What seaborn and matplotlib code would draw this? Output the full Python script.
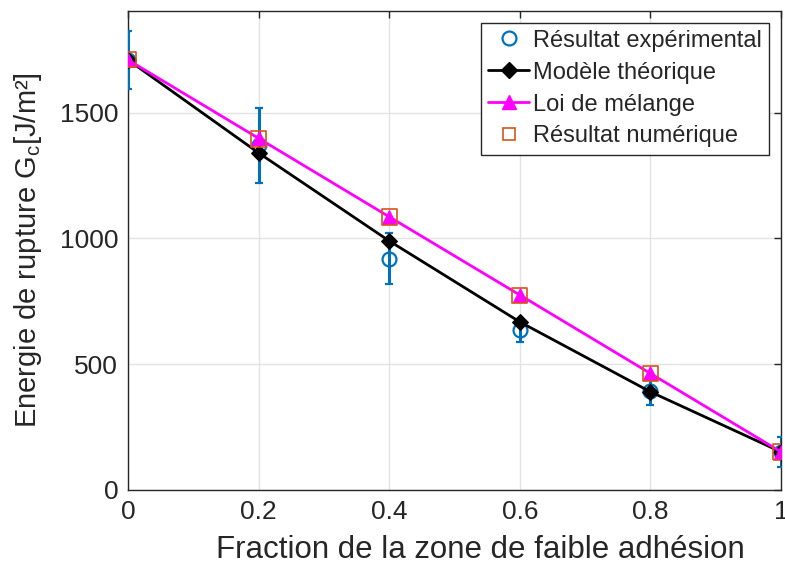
import matplotlib
matplotlib.use("Agg")
import matplotlib.pyplot as plt
from matplotlib.lines import Line2D
import seaborn as sns
import pandas as pd

fraction = [0.0, 0.2, 0.4, 0.6, 0.8, 1.0]
exp_mean = [1710, 1370, 920, 635, 392, 150]
exp_err = [115, 150, 100, 45, 55, 60]
theory = [1710, 1340, 990, 668, 390, 151]
mixing = [1710, 1398, 1086, 775, 463, 151]
numeric = [1710, 1395, 1085, 773, 462, 151]

sns.set_theme(style="white")
plt.rcParams['font.family'] = ['Liberation Sans', 'DejaVu Sans']
plt.rcParams['mathtext.fontset'] = 'custom'
plt.rcParams['mathtext.rm'] = 'Liberation Sans'
plt.rcParams['mathtext.it'] = 'Liberation Sans'

fig = plt.figure(figsize=(7.85, 5.69), dpi=100)
ax = fig.add_axes([0.163, 0.139, 0.832, 0.842])

df = pd.DataFrame({"x": fraction, "exp": exp_mean, "err": exp_err,
                   "theory": theory, "mixing": mixing, "numeric": numeric})

ax.errorbar(df["x"], df["exp"], yerr=df["err"], fmt='o', mfc='none', mec='#0072BD',
            ecolor='#0072BD', ms=10, mew=1.6, elinewidth=2.2, capsize=3, capthick=2.2,
            zorder=3)
sns.lineplot(data=df, x="x", y="theory", ax=ax, color='black', marker='D', ms=8, lw=2,
             mec='black', zorder=4, legend=False)
sns.lineplot(data=df, x="x", y="mixing", ax=ax, color='#FF00FF', marker='^', ms=9.5, lw=2,
             mec='#FF00FF', zorder=5, legend=False)
sns.scatterplot(data=df, x="x", y="numeric", ax=ax, marker='s', s=120, facecolor='none',
                edgecolor='#D95319', linewidth=1.2, zorder=6, legend=False)

ax.set_xlim(0, 1)
ax.set_ylim(0, 1905)
ax.set_xticks([0, 0.2, 0.4, 0.6, 0.8, 1])
ax.set_xticklabels(['0', '0.2', '0.4', '0.6', '0.8', '1'])
ax.set_yticks([0, 500, 1000, 1500])
ax.grid(True, color='#e3e3e3', lw=1)
ax.tick_params(direction='in', length=5, width=1, top=True, right=True,
               labelsize=19, colors='#262626', pad=7)
for s in ax.spines.values():
    s.set_color('#262626')
    s.set_linewidth(1)
ax.set_xlabel('Fraction de la zone de faible adhésion', fontsize=22.5, color='#262626')
ax.xaxis.set_label_coords(0.54, -0.095)
ax.set_ylabel('Energie de rupture G$_\\mathrm{c}$[J/m²]', fontsize=21, color='#262626', labelpad=11)

handles = [
    Line2D([], [], ls='none', marker='o', mfc='none', mec='#0072BD', ms=10, mew=1.6),
    Line2D([], [], color='black', lw=2, marker='D', ms=8),
    Line2D([], [], color='#FF00FF', lw=2, marker='^', ms=10),
    Line2D([], [], ls='none', marker='s', mfc='none', mec='#D95319', ms=9, mew=1.2),
]
labels = ['Résultat expérimental', 'Modèle théorique', 'Loi de mélange', 'Résultat numérique']
leg = ax.legend(handles, labels, loc='upper right', fontsize=17, frameon=True, fancybox=False,
                edgecolor='#262626', framealpha=1, borderpad=0.3, handlelength=1.7,
                handletextpad=0.2, labelspacing=0.42, borderaxespad=0.5)
leg.get_frame().set_linewidth(1)

fig.savefig('out.png', dpi=100)
